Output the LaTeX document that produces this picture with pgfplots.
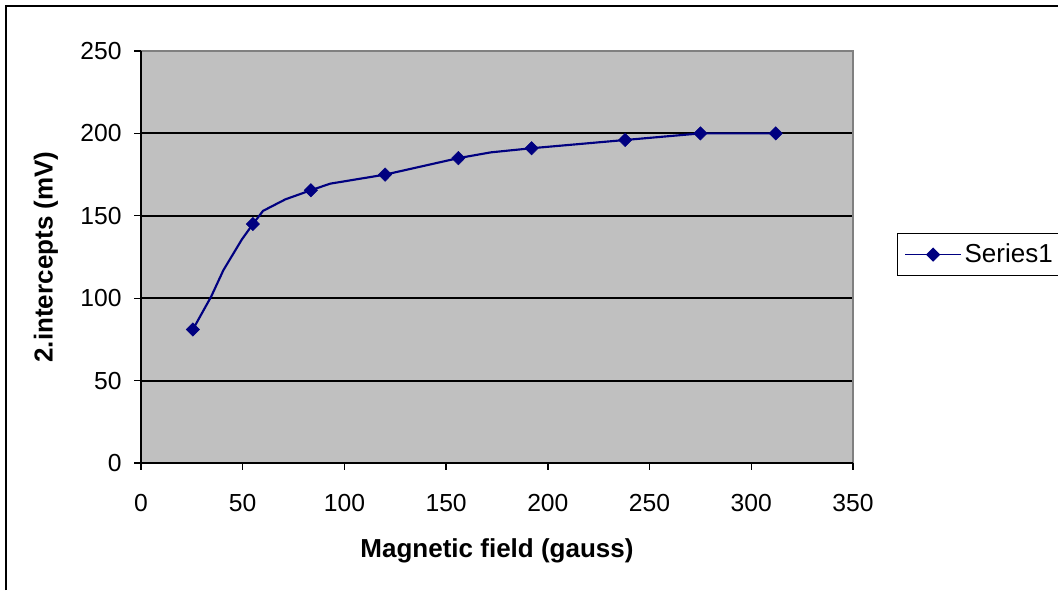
\documentclass[border=0pt]{standalone}
\usepackage{pgfplots}
\pgfplotsset{compat=1.18}
\usepackage{fontspec}
\setmainfont{Liberation Sans}
\definecolor{navyc}{HTML}{000080}
\definecolor{plotbg}{HTML}{C0C0C0}
\begin{document}
\begin{tikzpicture}
\useasboundingbox (0pt,0pt) rectangle (793.5pt,442.5pt);
\draw[line width=1.5pt] (4.5pt,0pt) -- (4.5pt,438pt) -- (793.5pt,438pt);
\begin{axis}[
  at={(105.75pt,95.25pt)}, anchor=south west,
  scale only axis, width=534pt, height=309pt,
  xmin=0, xmax=350, ymin=0, ymax=250,
  xtick={0,50,...,350}, ytick={0,50,...,250},
  axis background/.style={fill=plotbg},
  axis line style={draw=none},
  ymajorgrids, grid style={black, line width=1.4pt},
  tick align=outside, tick pos=left,
  major tick length=5pt,
  tick style={black, line width=1pt},
  /pgf/number format/assume math mode=true,
  ticklabel style={font=\fontsize{18.5}{20}\selectfont},
  yticklabel style={xshift=-6pt},
  xticklabel style={yshift=-15pt},
  xlabel={\textbf{Magnetic field (gauss)}},
  ylabel={\textbf{2.intercepts (mV)}},
  label style={font=\fontsize{19.5}{21}\selectfont},
  xlabel style={yshift=-13pt},
  ylabel style={yshift=10pt},
  clip=false,
  legend style={at={(1.0618,0.506)}, anchor=west, draw=black, line width=1pt,
    font=\fontsize{19.5}{21}\selectfont, inner xsep=5pt, inner ysep=6pt,
    fill=white},
  legend image code/.code={\draw[mark repeat=2,mark phase=2,#1] plot coordinates {(0pt,0pt) (21pt,0pt) (42pt,0pt)};},
]
\addplot[navyc, line width=1.6pt, forget plot] coordinates {
(25.5,81) (34.5,101) (40.5,117) (49.5,135.5) (55,145) (60,153) (71,160)
(83.5,165.5) (93,169.5) (120,175) (156,185) (172,188.5) (192,191)
(238,196) (275,200) (312,200)
};
\addplot[only marks, navyc, mark=diamond*, mark size=5pt, mark options={xscale=1.33}, forget plot] coordinates {
(25.5,81) (55,145) (83.5,165.5) (120,175) (156,185) (192,191)
(238,196) (275,200) (312,200)
};
\addlegendimage{navyc, line width=1.2pt, mark=diamond*, mark size=4.5pt, mark options={solid, xscale=1.33}}
\addlegendentry{Series1}
\draw[gray, line width=1.2pt] (axis cs:0,250) -- (axis cs:350,250) -- (axis cs:350,0);
\draw[black, line width=1.4pt] (axis cs:0,250) -- (axis cs:0,0) -- (axis cs:350,0);
\end{axis}
\end{tikzpicture}
\end{document}
